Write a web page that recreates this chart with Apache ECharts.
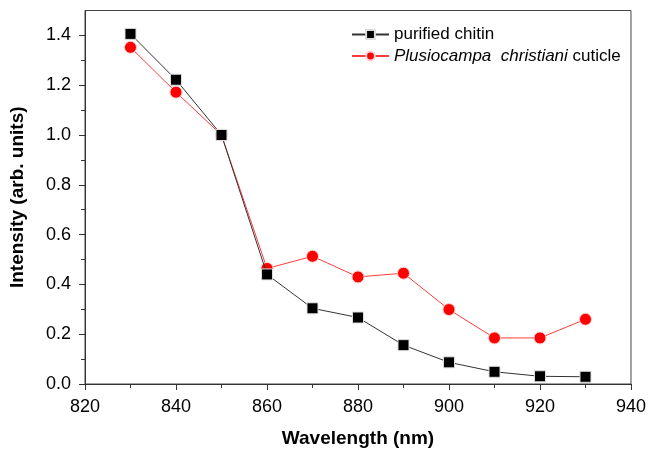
<!DOCTYPE html>
<html><head><meta charset="utf-8">
<script src="https://cdn.jsdelivr.net/npm/echarts@6/dist/echarts.min.js"></script>
<style>html,body{margin:0;padding:0;background:#fff}#c{width:649px;height:453px}</style>
</head><body><div id="c"></div>
<script>
const wavelengths = [830, 840, 850, 860, 870, 880, 890, 900, 910, 920, 930];
const purifiedChitin = [1.406, 1.222, 1.0, 0.440, 0.304, 0.267, 0.156, 0.087, 0.049, 0.031, 0.029];
const plusiocampaCuticle = [1.352, 1.172, 1.0, 0.464, 0.513, 0.430, 0.445, 0.299, 0.185, 0.185, 0.260];
const xTicks = [820, 840, 860, 880, 900, 920, 940];
const yTicks = [0.0, 0.2, 0.4, 0.6, 0.8, 1.0, 1.2, 1.4];

const chart = echarts.init(document.getElementById('c'), null, {renderer: 'canvas'});
const font = 'Liberation Sans, Arial, sans-serif';
chart.setOption({
  animation: false,
  grid: {left: 83, right: 17, top: 10.5, bottom: 68, show: true, borderColor: '#444', borderWidth: 1, containLabel: false},
  legend: {
    left: 346, top: 21, orient: 'vertical', itemGap: 4.5, itemWidth: 37, itemHeight: 11,
    textStyle: {fontFamily: font, fontSize: 17, color: '#000',
      rich: {i: {fontStyle: 'italic', fontFamily: font, fontSize: 17, color: '#000'}, n: {fontFamily: font, fontSize: 17, color: '#000'}}},
    formatter: function (name) {
      if (name === 'cuticle') return '{i|Plusiocampa  christiani}{n| cuticle}';
      return name;
    },
    data: ['purified chitin', 'cuticle']
  },
  xAxis: {
    type: 'value', min: 820, max: 940, interval: 20,
    name: 'Wavelength (nm)', nameLocation: 'middle', nameGap: 45,
    nameTextStyle: {fontFamily: font, fontSize: 19, fontWeight: 'bold', color: '#000'},
    axisLine: {lineStyle: {color: '#333'}},
    axisTick: {show: true, inside: false, length: 6, lineStyle: {color: '#333'}},
    minorTick: {show: true, splitNumber: 2, length: 4, lineStyle: {color: '#333'}},
    splitLine: {show: false},
    axisLabel: {fontFamily: font, fontSize: 18, color: '#000', margin: 14,
      customValues: xTicks, formatter: v => String(v)}
  },
  yAxis: {
    type: 'value', min: 0, max: 1.5, interval: 0.2,
    name: 'Intensity (arb. units)', nameLocation: 'middle', nameGap: 58, nameRotate: 90,
    nameTextStyle: {fontFamily: font, fontSize: 19, fontWeight: 'bold', color: '#000'},
    axisLine: {show: true, lineStyle: {color: '#333'}},
    axisTick: {show: true, inside: false, length: 6, lineStyle: {color: '#333'}, customValues: yTicks},
    minorTick: {show: true, splitNumber: 2, length: 4, lineStyle: {color: '#333'}},
    splitLine: {show: false},
    axisLabel: {fontFamily: font, fontSize: 18, color: '#000', margin: 14,
      customValues: yTicks, formatter: v => v.toFixed(1)}
  },
  series: [
    {name: 'purified chitin', type: 'line', data: wavelengths.map((w, i) => [w, purifiedChitin[i]]),
      symbol: 'rect', symbolSize: 11, lineStyle: {color: '#333', width: 1},
      itemStyle: {color: '#000', borderColor: '#ddd', borderWidth: 1}, z: 3},
    {name: 'cuticle', type: 'line', data: wavelengths.map((w, i) => [w, plusiocampaCuticle[i]]),
      symbol: 'circle', symbolSize: 12, lineStyle: {color: '#ff3b3b', width: 1},
      itemStyle: {color: '#ff0000', borderColor: '#ffd0d0', borderWidth: 1}, z: 2}
  ]
});
</script></body></html>
